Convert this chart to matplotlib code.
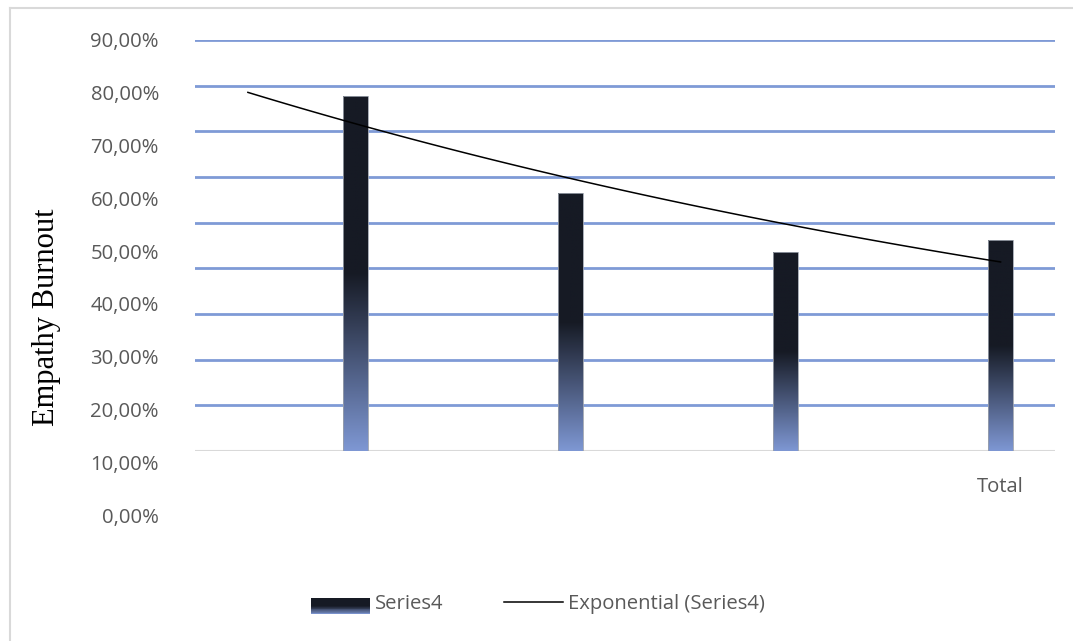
import numpy as np
import matplotlib.pyplot as plt
from matplotlib.colors import LinearSegmentedColormap
from matplotlib.patches import Rectangle
from matplotlib.lines import Line2D
from matplotlib.legend_handler import HandlerBase

# data
categories = ['', '', '', 'Total']
series4 = [77.8, 56.4, 43.5, 46.1]
y_ticks = [0, 10, 20, 30, 40, 50, 60, 70, 80, 90]
y_tick_labels = ['0,00%', '10,00%', '20,00%', '30,00%', '40,00%',
                 '50,00%', '60,00%', '70,00%', '80,00%', '90,00%']

W, H = 1073, 641
DARK = '#161a24'
LIGHT = '#7e97d3'
GRID = '#7f9ad6'
TXT = '#595959'
SANS = ['Open Sans', 'DejaVu Sans']
FS = 14.6

grad = LinearSegmentedColormap.from_list('grad', [(0, LIGHT), (0.5, DARK), (1, DARK)])


def px(x0, y0, x1, y1):
    return [x0 / W, 1 - y1 / H, (x1 - x0) / W, (y1 - y0) / H]


fig = plt.figure(figsize=(W / 100, H / 100), dpi=100)

# main plot area
ax = fig.add_axes(px(195, 40, 1055, 451))
ax.patch.set_visible(False)
x = np.arange(1, len(series4) + 1)

for v in y_ticks[1:]:
    ax.axhline(v, color=GRID, lw=2, zorder=1)
ax.axhline(0, color='#d9d9d9', lw=1.5, zorder=1)

bars = ax.bar(x, series4, width=0.113, color='none', edgecolor='#9aa0ab', lw=0.6, zorder=3)
img = np.linspace(0, 1, 256).reshape(-1, 1)
for b in bars:
    im = ax.imshow(img, cmap=grad, origin='lower', aspect='auto', zorder=2,
                   extent=(b.get_x(), b.get_x() + b.get_width(), 0, b.get_height()))
    im.set_clip_path(b)

# exponential trendline
k, c = np.polyfit(x, np.log(series4), 1)
xt = np.linspace(0.5, 4, 100)
ax.plot(xt, np.exp(c + k * xt), color='black', lw=1.1, zorder=4)

ax.set_xlim(0.254, 4.253)
ax.set_ylim(0, 90)
ax.set_yticks([])
ax.set_xticks(x, categories)
ax.tick_params(axis='x', length=0, pad=19, labelsize=FS, labelcolor=TXT)
for t in ax.get_xticklabels():
    t.set_family(SANS)
for s in ax.spines.values():
    s.set_visible(False)

# value axis labels (Excel draws them on their own spacing)
lab = fig.add_axes(px(195, 40, 1055, 515))
lab.patch.set_visible(False)
lab.set_ylim(0, 90)
lab.set_yticks(y_ticks, y_tick_labels)
lab.set_xticks([])
lab.tick_params(axis='y', length=0, pad=26, labelsize=FS, labelcolor=TXT)
for t in lab.get_yticklabels():
    t.set_family(SANS)
for s in lab.spines.values():
    s.set_visible(False)

fig.text(47 / W, 1 - 317 / H, 'Empathy Burnout', rotation=90, ha='center', va='center',
         family='Liberation Serif', fontsize=22, color='black')


# legend with gradient swatch
class GradHandler(HandlerBase):
    def create_artists(self, legend, orig, xd, yd, width, height, fontsize, trans):
        n = 20
        h = 11.5
        y0 = -yd + (height - h) / 2 - 3.0
        arts = []
        for i in range(n):
            r = Rectangle((-xd, y0 + h * i / n), width, h / n + 0.2,
                          facecolor=grad((i + 0.5) / n), edgecolor='none', transform=trans)
            arts.append(r)
        return arts


swatch = Rectangle((0, 0), 1, 1)
line = Line2D([], [], color='black', lw=1.1)
leg = fig.legend([swatch, line], ['Series4', 'Exponential (Series4)'],
                 handler_map={Rectangle: GradHandler()},
                 loc='center', bbox_to_anchor=(538 / W, 1 - 604 / H), ncol=2, frameon=False,
                 handlelength=2.9, handleheight=0.8, handletextpad=0.25, columnspacing=3.0,
                 prop={'family': SANS, 'size': FS})
for t in leg.get_texts():
    t.set_color(TXT)

# chart border
fig.add_artist(Line2D([10 / W, 10 / W], [0, 1 - 8 / H], color='#d9d9d9', lw=1.5, transform=fig.transFigure))
fig.add_artist(Line2D([10 / W, 1], [1 - 8 / H, 1 - 8 / H], color='#d9d9d9', lw=1.5, transform=fig.transFigure))

plt.savefig('out.png', dpi=100)
